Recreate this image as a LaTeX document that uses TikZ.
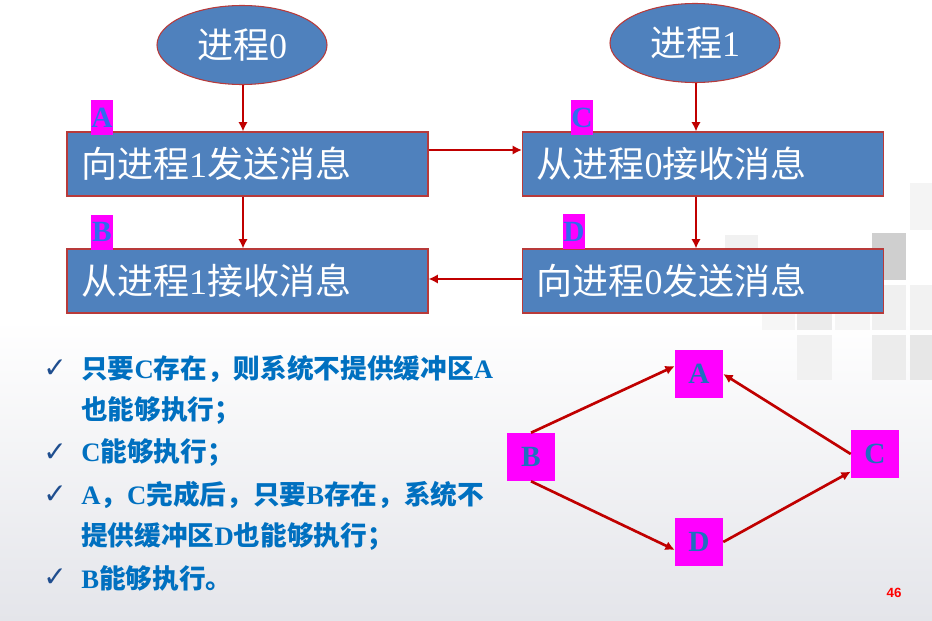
\documentclass[tikz,border=0pt]{standalone}
\usepackage{fontspec}
\setmainfont{Liberation Serif}
\setsansfont{Liberation Sans}
\newfontfamily\cjk{Noto Sans CJK SC}
\newfontfamily\symf{DejaVu Sans}
\usetikzlibrary{shapes.geometric,arrows.meta}
\definecolor{boxblue}{HTML}{4F81BD}
\definecolor{boxedge}{HTML}{B83A3A}
\definecolor{arrred}{HTML}{C00000}
\definecolor{txtblue}{HTML}{0070C0}
\definecolor{chkblue}{HTML}{1F4E8F}
\definecolor{labblue}{HTML}{2F6BEF}
\definecolor{grblue}{HTML}{1F6FBF}
\definecolor{mag}{HTML}{FF00FF}
\newcommand\lat[1]{{\rmfamily #1}}
\tikzset{
  procbox/.style={rectangle, fill=boxblue, draw=boxedge, line width=0.8pt,
    minimum width=270.75pt, minimum height=48pt, text width=249.75pt,
    inner xsep=10.5pt, align=left, text=white,
    font=\cjk\fontsize{27}{30}\selectfont},
  proc/.style={ellipse, fill=boxblue, draw=boxedge, line width=0.8pt,
    minimum width=127.5pt, minimum height=59.25pt, inner sep=0pt, text=white,
    font=\cjk\fontsize{27}{30}\selectfont},
  tag/.style={rectangle, fill=mag, inner sep=0pt, minimum width=16.5pt,
    minimum height=26.25pt, text=labblue, font=\rmfamily\bfseries\fontsize{22}{24}\selectfont},
  gnode/.style={rectangle, fill=mag, inner sep=0pt, minimum size=36pt,
    text=grblue, font=\rmfamily\bfseries\fontsize{22}{24}\selectfont},
  conn/.style={draw=arrred, line width=2pt, -{Latex[length=7pt,width=7pt]}},
  line/.style={anchor=west, inner sep=0pt, text=txtblue,
    font=\cjk\bfseries\fontsize{20}{24}\selectfont},
  chk/.style={inner sep=0pt, text=chkblue, font=\symf\fontsize{21}{24}\selectfont},
  sq/.style={draw=none}
}
\begin{document}
\begin{tikzpicture}[x=0.75pt,y=-0.75pt]
\useasboundingbox (0,0) rectangle (932,621);
% background
\fill[white] (0,0) rectangle (932,621);
\shade[top color=white, bottom color={rgb,255:red,228;green,229;blue,234}] (0,320) rectangle (932,621);
\fill[gray!9] (910,183) rectangle (932,230);
\fill[gray!11] (725,235) rectangle (758,250);
\fill[gray!38] (872,233) rectangle (906,280);
\fill[gray!7] (762,285) rectangle (795,330);
\fill[gray!16] (797,285) rectangle (832,330);
\fill[gray!8] (835,285) rectangle (870,330);
\fill[gray!12] (872,285) rectangle (906,330);
\fill[gray!10] (910,285) rectangle (932,330);
\fill[gray!11] (797,335) rectangle (832,380);
\fill[gray!15] (872,335) rectangle (906,380);
\fill[gray!19] (910,335) rectangle (932,380);

% process ellipses
\node[proc] (p0) at (242,45) {进程\lat{0}};
\node[proc] (p1) at (695,43) {进程\lat{1}};
% boxes
\node[procbox] (bA) at (247.5,164) {向进程\lat{1}发送消息};
\node[procbox] (bB) at (247.5,281) {从进程\lat{1}接收消息};
\node[procbox] (bC) at (703,164) {从进程\lat{0}接收消息};
\node[procbox] (bD) at (703,281) {向进程\lat{0}发送消息};
% helper coordinates
\coordinate (xl) at (243,0);
\coordinate (xr) at (696,0);
\coordinate (y1) at (0,150);
\coordinate (y2) at (0,279);
% connectors
\draw[conn] (p0.south -| xl) -- (bA.north -| xl);
\draw[conn] (p1.south -| xr) -- (bC.north -| xr);
\draw[conn] (bA.south -| xl) -- (bB.north -| xl);
\draw[conn] (bC.south -| xr) -- (bD.north -| xr);
\draw[conn] (bA.east |- y1) -- (bC.west |- y1);
\draw[conn] (bD.west |- y2) -- (bB.east |- y2);
% tags
\node[tag] (tA) at (102,117.5) {A};
\node[tag] (tB) at (102,232) {B};
\node[tag] (tC) at (582,117.5) {C};
\node[tag] (tD) at (574,231.5) {D};

% bullet text
\node[chk] (c1) at (55,369) {✓};
\node[chk] (c2) at (55,453) {✓};
\node[chk] (c3) at (55,495) {✓};
\node[chk] (c4) at (55,578) {✓};
\node[line] (l1) at (81,369) {只要\lat{C}存在，则系统不提供缓冲区\lat{A}};
\node[line] (l2) at (81,411) {也能够执行；};
\node[line] (l3) at (81,453) {\lat{C}能够执行；};
\node[line] (l4) at (81,495) {\lat{A}，\lat{C}完成后，只要\lat{B}存在，系统不};
\node[line] (l5) at (81,536) {提供缓冲区\lat{D}也能够执行；};
\node[line] (l6) at (81,578) {\lat{B}能够执行。};

% precedence graph
\node[gnode] (gA) at (699,374) {A};
\node[gnode] (gB) at (531,457) {B};
\node[gnode] (gC) at (875,454) {C};
\node[gnode] (gD) at (699,542) {D};
\draw[conn] (gB.north) -- (gA.162);
\draw[conn] (gB.south) -- (gD.198);
\draw[conn] (gD.east) -- (gC.216);
\draw[conn] (gC.west) -- (gA.east);

\node[text=red, font=\sffamily\bfseries\fontsize{10}{12}\selectfont] (pg) at (894,593) {46};
\end{tikzpicture}
\end{document}
